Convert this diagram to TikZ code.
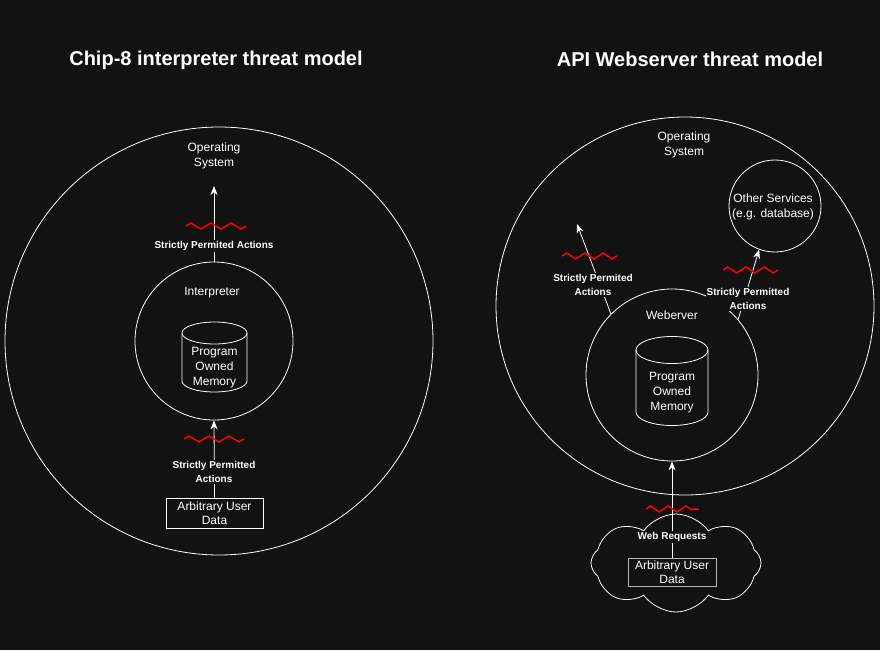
\documentclass[tikz,border=0pt]{standalone}
\usepackage{fontspec}
\setmainfont{Liberation Sans}
\usetikzlibrary{arrows.meta}
\usetikzlibrary{shapes.symbols}
\usetikzlibrary{decorations.pathmorphing}

\definecolor{bg}{RGB}{18,18,18}

\begin{document}
\begin{tikzpicture}[x=1pt, y=-1pt, >={Stealth[length=9pt,width=7pt]},
  ring/.style={circle, draw=white, line width=0.8pt, inner sep=0pt},
  lbl/.style={text=white, align=center, font=\fontsize{12}{15}\selectfont},
  edgelbl/.style={text=white, fill=bg, align=center, inner sep=1pt, font=\fontsize{10}{14}\selectfont\bfseries},
  arr/.style={->, draw=white, line width=0.8pt},
  redwave/.style={draw=red, line width=1.5pt, decorate, decoration={zigzag, segment length=20pt, amplitude=3pt}},
  databox/.style={draw=white, line width=0.8pt, text=white, align=center, font=\fontsize{12}{14}\selectfont, inner sep=1pt}]

\fill [bg] (0,0) rectangle (880,650);
\useasboundingbox (0,0) rectangle (880,650);

% chip-8 side
\node [text=white, font=\fontsize{20}{24}\selectfont\bfseries] (title1) at (216,60) {Chip-8 interpreter threat model};
\node [ring, minimum size=428pt] (os1) at (219,341) {};
\node [lbl] (oslbl1) at (214,156) {Operating\\System};
\node [ring, minimum size=158pt] (interp) at (214,341) {};
\node [lbl] (interplbl) at (212,293) {Interpreter};
\draw [white, line width=0.8pt] (182,333) -- (182,381) arc [start angle=180, end angle=360, x radius=32.5pt, y radius=11pt] -- (247,333);
\draw [white, line width=0.8pt] (214.5,333) ellipse [x radius=32.5pt, y radius=11pt];
\node [lbl] (mem1) at (214.5,368) {Program\\Owned\\Memory};

\coordinate (tip1) at (214,186);
\draw [arr] (interp.north) -- (tip1);
\node [edgelbl] (perm1) at (214,246) {Strictly Permited Actions};
\draw [redwave] (186,226) -- (246,226);

\node [databox, minimum width=97pt, minimum height=30pt] (data1) at (214.5,513) {Arbitrary User\\Data};
\draw [arr] (data1.north) -- (interp.south);
\node [edgelbl] (perm2) at (214,472) {Strictly Permitted\\Actions};
\draw [redwave] (184,439) -- (244,439);

% webserver side
\node [text=white, font=\fontsize{20}{24}\selectfont\bfseries] (title2) at (690,59) {API Webserver threat model};
\node [ring, minimum size=378pt] (os2) at (685,306) {};
\node [lbl] (oslbl2) at (684,145) {Operating\\System};
\node [ring, minimum size=92pt] (other) at (775,206) {};
\node [lbl] (otherlbl) at (773,206.5) {Other Services\\(e.g. database)};
\node [ring, minimum size=172pt] (web) at (672,375) {};
\node [lbl] (weblbl) at (672,315) {Weberver};
\draw [white, line width=0.8pt] (636,350) -- (636,412) arc [start angle=180, end angle=360, x radius=36pt, y radius=13.5pt] -- (708,350);
\draw [white, line width=0.8pt] (672,350) ellipse [x radius=36pt, y radius=13.5pt];
\node [lbl] (mem2) at (672,393) {Program\\Owned\\Memory};

\coordinate (tip2) at (577,224);
\draw [arr] (web.135) -- (tip2);
\node [edgelbl] (perm3) at (593,285) {Strictly Permited\\Actions};
\draw [redwave, decoration={segment length=18.3pt}] (562,256) -- (617,256);

\draw [arr] (web.40) -- (other.250);
\node [edgelbl] (perm4) at (748,299) {Strictly Permitted\\Actions};
\draw [redwave, decoration={segment length=18.3pt}] (723,270) -- (778,270);

\node [cloud, cloud puffs=8, cloud puff arc=110, draw=white, line width=0.8pt, minimum width=170pt, minimum height=98pt, inner sep=0pt] (inet) at (676,563) {};
\node [databox, draw=white!70!bg, minimum width=88pt, minimum height=28pt] (data2) at (672,572) {Arbitrary User\\Data};
\draw [arr] (data2.north) -- (web.south);
\node [edgelbl] (req) at (672,537) {Web Requests};
\draw [redwave, decoration={segment length=17.7pt}] (646,509) -- (699,509);
\end{tikzpicture}
\end{document}
